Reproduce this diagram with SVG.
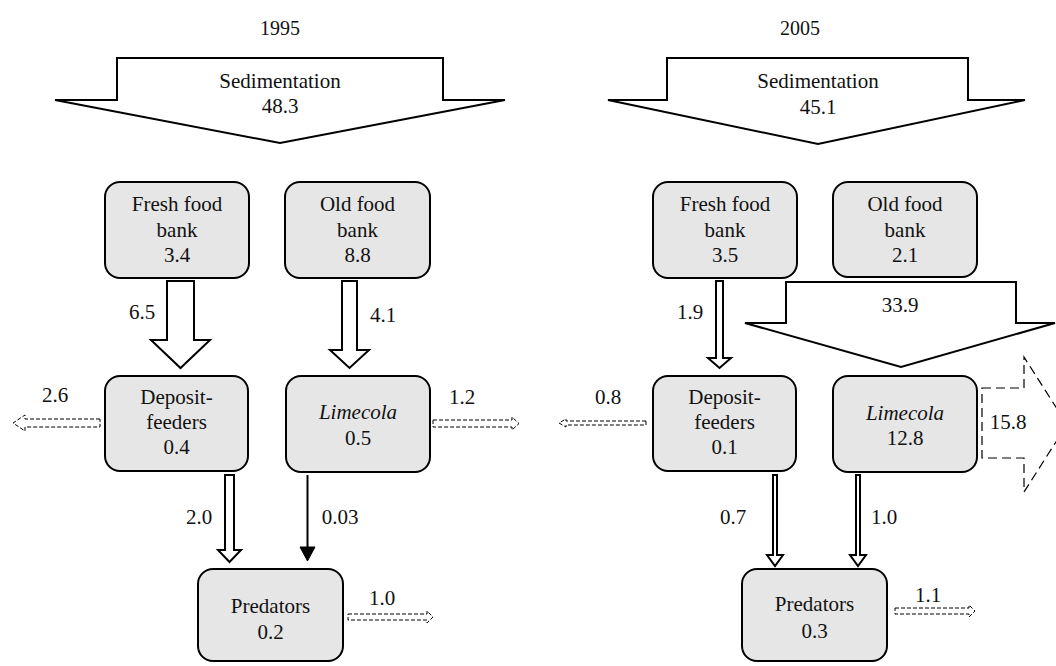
<svg xmlns="http://www.w3.org/2000/svg" width="1056" height="666" viewBox="0 0 1056 666" font-family="'Liberation Serif', 'Times New Roman', Times, 'DejaVu Serif', serif">
<style>
text{font-family:"Liberation Serif","Times New Roman",Times,"DejaVu Serif",serif;font-size:21px;fill:#111;text-anchor:middle}
.t{font-size:20px}
.box{fill:#e6e6e6;stroke:#000;stroke-width:2}
.big{fill:#fff;stroke:#000;stroke-width:2;stroke-linejoin:miter}
.dash{fill:#fff;stroke:#000;stroke-width:1;stroke-dasharray:4 2}
.dash2{fill:#fff;stroke:#000;stroke-width:1.2;stroke-dasharray:9 5}
</style>
<rect width="1056" height="666" fill="#fff"/>
<text class="t" x="280" y="35">1995</text>
<text class="t" x="800" y="35">2005</text>

<g id="connectors">
  <!-- 1995 -->
  <polygon class="big" points="117,58 443,58 443,100 505,100 280,143 55,100 117,100"/>
  <polygon class="big" points="167,281 194,281 194,340 210,340 180.5,368 151,340 167,340"/>
  <polygon class="big" points="342,281 357,281 357,350 369,350 349.5,368 330,350 342,350"/>
  <polygon class="big" points="225,475 234,475 234,550 241,550 229.5,562 218,550 225,550"/>
  <line x1="307.5" y1="475" x2="307.5" y2="548" stroke="#000" stroke-width="2"/>
  <polygon points="300,547 315,547 307.5,561" fill="#000" stroke="#000" stroke-width="1"/>
  <polygon class="dash" points="100,419 25,419 25,415 13,423 25,431 25,427 100,427"/>
  <polygon class="dash" points="433,420 512,420 512,417 519,423.5 512,430 512,427 433,427"/>
  <polygon class="dash" points="348,614 427,614 427,611 433,617 427,623 427,620 348,620"/>
  <!-- 2005 -->
  <polygon class="big" points="667,58 968,58 968,100 1025,100 818,144 608,100 667,100"/>
  <polygon class="big" points="716,281 723,281 723,358 731,358 719.5,368 708,358 716,358"/>
  <polygon class="big" points="786,282 1016,282 1016,323 1055,323 901,367 745,323 786,323"/>
  <polygon class="big" points="773,475 777,475 777,555 783,555 775,566 767,555 773,555"/>
  <polygon class="big" points="856,475 860,475 860,555 866,555 858,566 850,555 856,555"/>
  <polygon class="dash" points="646,421 566,421 566,419 559,423 566,427 566,425 646,425"/>
  <polygon class="dash2" points="982,388 1024,388 1024,357 1067,424.5 1024,492 1024,458 982,458"/>
  <polygon class="dash" points="895,608 969,608 969,605 975,611 969,617 969,614 895,614"/>
</g>

<g id="labels">
  <text x="280" y="88">Sedimentation</text>
  <text x="280" y="113">48.3</text>
  <text x="142" y="319">6.5</text>
  <text x="383" y="322">4.1</text>
  <text x="55" y="402">2.6</text>
  <text x="462" y="404">1.2</text>
  <text x="199" y="524">2.0</text>
  <text x="340" y="524">0.03</text>
  <text x="382" y="605">1.0</text>
  <text x="818" y="88">Sedimentation</text>
  <text x="818" y="114">45.1</text>
  <text x="690" y="319">1.9</text>
  <text x="900" y="312">33.9</text>
  <text x="608" y="404">0.8</text>
  <text x="1008" y="429">15.8</text>
  <text x="733" y="524">0.7</text>
  <text x="884" y="524">1.0</text>
  <text x="928" y="602">1.1</text>
</g>

<g id="fresh1995">
  <rect class="box" x="105" y="182" width="144" height="96" rx="15"/>
  <text x="177" y="211">Fresh food</text><text x="177" y="237">bank</text><text x="177" y="262">3.4</text>
</g>
<g id="old1995">
  <rect class="box" x="285" y="182" width="145" height="96" rx="15"/>
  <text x="357.5" y="211">Old food</text><text x="357.5" y="237">bank</text><text x="357.5" y="262">8.8</text>
</g>
<g id="deposit1995">
  <rect class="box" x="105" y="376" width="143" height="95" rx="15"/>
  <text x="176.5" y="404">Deposit-</text><text x="176.5" y="429">feeders</text><text x="176.5" y="454">0.4</text>
</g>
<g id="limecola1995">
  <rect class="box" x="286" y="376" width="144" height="96" rx="15"/>
  <text x="358" y="419" font-style="italic">Limecola</text><text x="358" y="445">0.5</text>
</g>
<g id="predators1995">
  <rect class="box" x="198" y="569" width="145" height="92" rx="15"/>
  <text x="270.5" y="613">Predators</text><text x="270.5" y="639">0.2</text>
</g>

<g id="fresh2005">
  <rect class="box" x="653" y="182" width="144" height="96" rx="15"/>
  <text x="725" y="211">Fresh food</text><text x="725" y="237">bank</text><text x="725" y="262">3.5</text>
</g>
<g id="old2005">
  <rect class="box" x="833" y="182" width="144" height="95" rx="15"/>
  <text x="905" y="211">Old food</text><text x="905" y="237">bank</text><text x="905" y="262">2.1</text>
</g>
<g id="deposit2005">
  <rect class="box" x="653" y="376" width="143" height="95" rx="15"/>
  <text x="724.5" y="404">Deposit-</text><text x="724.5" y="429">feeders</text><text x="724.5" y="454">0.1</text>
</g>
<g id="limecola2005">
  <rect class="box" x="833" y="376" width="144" height="96" rx="15"/>
  <text x="905" y="420" font-style="italic">Limecola</text><text x="905" y="445">12.8</text>
</g>
<g id="predators2005">
  <rect class="box" x="742" y="569" width="145" height="92" rx="15"/>
  <text x="814.5" y="611">Predators</text><text x="814.5" y="638">0.3</text>
</g>
</svg>
